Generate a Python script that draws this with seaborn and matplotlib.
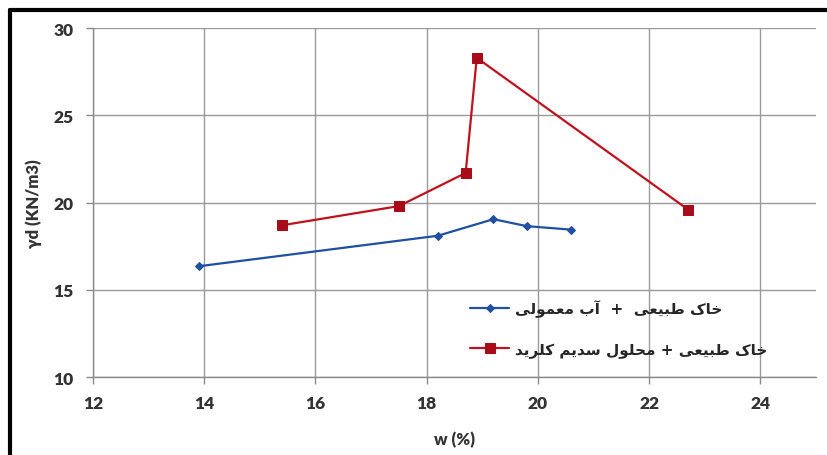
import pandas as pd
import numpy as np
import matplotlib
matplotlib.use("Agg")
import matplotlib.pyplot as plt
from matplotlib.lines import Line2D
import seaborn as sns

# data
w_water = [13.9, 18.2, 19.2, 19.8, 20.6]
gd_water = [16.35, 18.1, 19.05, 18.65, 18.45]
w_nacl = [15.4, 17.5, 18.7, 18.9, 22.7]
gd_nacl = [18.7, 19.8, 21.7, 28.3, 19.6]
x_ticks = [12, 14, 16, 18, 20, 22, 24]
y_ticks = [10, 15, 20, 25, 30]
label_water = "خاک طبیعی  +  آب معمولی"
label_nacl = "خاک طبیعی + محلول سدیم کلرید"

# small arabic/persian shaper (matplotlib does no shaping or bidi)
# (isolated, final, initial, medial)
FORMS = {
    "ا": ("\uFE8D", "\uFE8E", None, None),
    "آ": ("\uFE81", "\uFE82", None, None),
    "د": ("\uFEA9", "\uFEAA", None, None),
    "ر": ("\uFEAD", "\uFEAE", None, None),
    "و": ("\uFEED", "\uFEEE", None, None),
    "ب": ("\uFE8F", "\uFE90", "\uFE91", "\uFE92"),
    "ح": ("\uFEA1", "\uFEA2", "\uFEA3", "\uFEA4"),
    "خ": ("\uFEA5", "\uFEA6", "\uFEA7", "\uFEA8"),
    "س": ("\uFEB1", "\uFEB2", "\uFEB3", "\uFEB4"),
    "ط": ("\uFEC1", "\uFEC2", "\uFEC3", "\uFEC4"),
    "ع": ("\uFEC9", "\uFECA", "\uFECB", "\uFECC"),
    "ل": ("\uFEDD", "\uFEDE", "\uFEDF", "\uFEE0"),
    "م": ("\uFEE1", "\uFEE2", "\uFEE3", "\uFEE4"),
    "ک": ("\uFB8E", "\uFB8F", "\uFB90", "\uFB91"),
    "ی": ("\uFBFC", "\uFBFD", "\uFBFE", "\uFBFF"),
}


def shape_rtl(text):
    out = []
    for i, ch in enumerate(text):
        if ch not in FORMS:
            out.append(ch)
            continue
        prev = text[i - 1] if i > 0 else ""
        nxt = text[i + 1] if i < len(text) - 1 else ""
        join_prev = prev in FORMS and FORMS[prev][2] is not None
        join_next = FORMS[ch][2] is not None and nxt in FORMS
        iso, fin, ini, med = FORMS[ch]
        if join_prev and join_next:
            out.append(med)
        elif join_prev:
            out.append(fin)
        elif join_next:
            out.append(ini)
        else:
            out.append(iso)
    return "".join(out)[::-1]


df_water = pd.DataFrame({"w": w_water, "gd": gd_water})
df_nacl = pd.DataFrame({"w": w_nacl, "gd": gd_nacl})

sns.set_theme(style="white")
plt.rcParams["font.family"] = ["Lato", "DejaVu Sans"]

fig = plt.figure(figsize=(8.27, 4.56), dpi=100)
ax = fig.add_axes([0.1125, 0.171, 0.8742, 0.765])

sns.lineplot(data=df_water, x="w", y="gd", ax=ax, color="#2050A0", lw=1.6,
             marker="D", markersize=4.5, markeredgecolor="#2050A0",
             estimator=None, sort=False, label=shape_rtl(label_water))
sns.lineplot(data=df_nacl, x="w", y="gd", ax=ax, color="#C0121E", lw=1.6,
             marker="s", markersize=7, markerfacecolor="#A80C18",
             markeredgecolor="#A80C18",
             estimator=None, sort=False, label=shape_rtl(label_nacl))

ax.set_xlim(12, 25)
ax.set_ylim(10, 30)
ax.set_xticks(x_ticks)
ax.set_yticks(y_ticks)
ax.grid(True, color="#9a9a9a", lw=1.0)
ax.set_axisbelow(True)
for s in ["top", "right"]:
    ax.spines[s].set_visible(False)
for s in ["left", "bottom"]:
    ax.spines[s].set_color("#8a8a8a")
    ax.spines[s].set_linewidth(1.0)

ax.tick_params(axis="both", which="major", length=5, width=1, color="#8a8a8a",
               labelsize=12.5, labelcolor="#333333", left=True, bottom=True)
ax.tick_params(axis="y", pad=9)
ax.tick_params(axis="x", pad=8)
for lab in ax.get_xticklabels() + ax.get_yticklabels():
    lab.set_fontweight("heavy")

ax.set_xlabel("w (%)", fontsize=12, fontweight="heavy", color="#333333", labelpad=14)
ax.set_ylabel("γd (KN/m3)", fontsize=12, fontweight="heavy", color="#333333", labelpad=8)

leg = ax.legend(loc="upper left", bbox_to_anchor=(0.522, 0.222), frameon=False,
                prop={"family": "DejaVu Sans", "weight": "bold", "size": 11},
                handlelength=2.5, handletextpad=0.4, labelspacing=1.6,
                borderpad=0, borderaxespad=0)

# outer frame of the original picture (only left and top show)
fig.add_artist(Line2D([0.012, 0.012], [0, 0.975], transform=fig.transFigure,
                      color="black", lw=3))
fig.add_artist(Line2D([0.012, 1.0], [0.975, 0.975], transform=fig.transFigure,
                      color="black", lw=3))

fig.savefig("out.png", dpi=100)
